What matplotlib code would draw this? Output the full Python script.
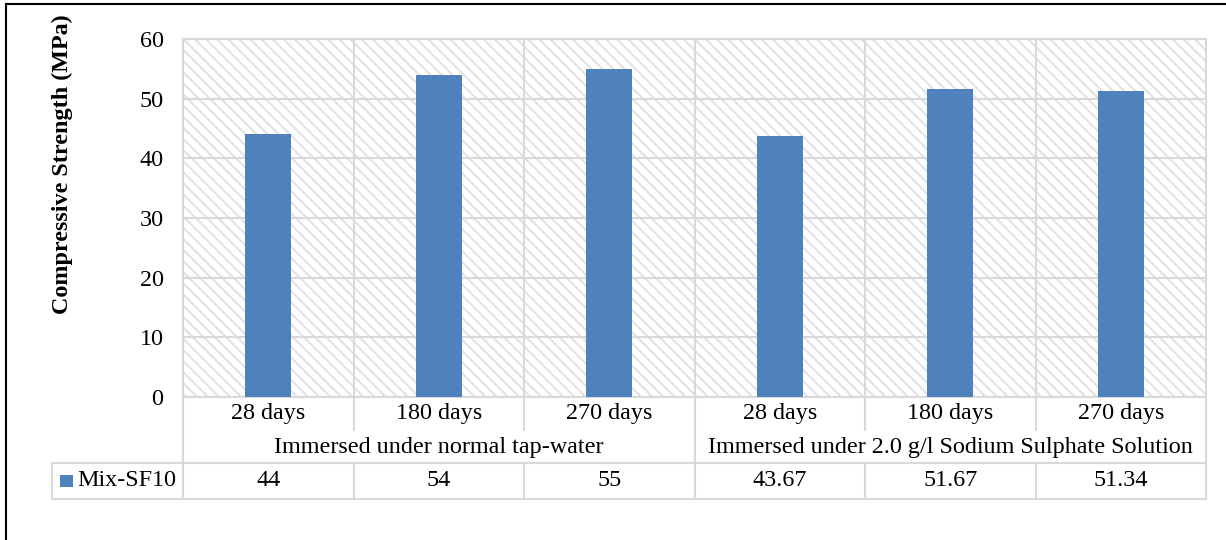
import matplotlib
matplotlib.use("Agg")
import matplotlib.pyplot as plt
import matplotlib.transforms as mtransforms
from matplotlib.patches import Rectangle
from matplotlib.lines import Line2D

plt.rcParams['font.family'] = ['Liberation Serif', 'DejaVu Serif']
plt.rcParams['hatch.color'] = '#E2E2E2'
plt.rcParams['hatch.linewidth'] = 1.5

# Compressive strength results
ages = ['28 days', '180 days', '270 days', '28 days', '180 days', '270 days']
groups = ['Immersed under normal tap-water',
          'Immersed under 2.0 g/l Sodium Sulphate Solution']
series_name = 'Mix-SF10'
strength = [44, 54, 55, 43.67, 51.67, 51.34]
value_labels = ['44', '54', '55', '43.67', '51.67', '51.34']

W, H = 1226, 540
GRID = '#D9D9D9'
BAR = '#4F81BD'
FS = 17.4

fig = plt.figure(figsize=(W / 100, H / 100), dpi=100)
ax = fig.add_axes([183 / W, 1 - 397 / H, (1206 - 183) / W, (397 - 39) / H])

# hatched plot background
ax.add_patch(Rectangle((0, 0), 1, 1, transform=ax.transAxes, facecolor='white',
                       edgecolor='#E2E2E2', hatch='\\\\\\', linewidth=0, zorder=0.1))

x = list(range(len(strength)))
ax.bar(x, strength, width=0.27, color=BAR, zorder=3)

ax.set_xlim(-0.5, len(strength) - 0.5)
ax.set_ylim(0, 60)
ax.set_yticks(range(0, 61, 10))
ax.set_xticks([])
ax.set_xticks([i + 0.5 for i in range(len(strength) - 1)], minor=True)
ax.tick_params(axis='y', length=0, pad=14, labelsize=FS)
ax.tick_params(axis='x', which='both', length=0, labelbottom=False)
ax.set_axisbelow(True)
ax.grid(axis='y', color=GRID, linewidth=1.5)
ax.grid(axis='x', which='minor', color=GRID, linewidth=1.5)
for s in ax.spines.values():
    s.set_color(GRID)
    s.set_linewidth(1.5)

# data table under the axis
tr = mtransforms.blended_transform_factory(ax.transData, ax.transAxes)
ph = 358.0
r1, r2, r3 = -33 / ph, -66 / ph, -102 / ph
x_left, x_right = -0.5, len(strength) - 0.5
x_leg = -0.5 - (183 - 52) / 170.5


def tline(xs, ys):
    ax.add_line(Line2D(xs, ys, transform=tr, color=GRID, lw=1.5, clip_on=False))


tline([x_leg, x_right], [r2, r2])
tline([x_leg, x_right], [r3, r3])
tline([x_leg, x_leg], [r2, r3])
for b in [x_left, 2.5, x_right]:
    tline([b, b], [0, r3])
for b in [0.5, 1.5, 3.5, 4.5]:
    tline([b, b], [0, r1])
    tline([b, b], [r2, r3])

for i, (a, v) in enumerate(zip(ages, value_labels)):
    ax.text(i, -16 / ph, a, transform=tr, ha='center', va='center', fontsize=FS)
    ax.text(i, -84 / ph, v, transform=tr, ha='center', va='center', fontsize=FS)
for g, label in enumerate(groups):
    ax.text(1 + 3 * g, -50 / ph, label, transform=tr, ha='center', va='center',
            fontsize=FS)

# legend key inside the table
key_x = -0.5 - (183 - 60) / 170.5
ax.add_patch(Rectangle((key_x, -90 / ph), 13 / 170.5, 12 / ph, transform=tr,
                       facecolor=BAR, edgecolor='none', clip_on=False))
ax.text(-0.5 - (183 - 77) / 170.5, -84 / ph, series_name, transform=tr,
        ha='left', va='center', fontsize=FS)

fig.text(62 / W, 1 - 164 / H, 'Compressive Strength (MPa)', rotation=90,
         ha='center', va='center', fontsize=FS, fontweight='bold')

# outer frame (left and top edges)
fig.add_artist(Line2D([6 / W, 6 / W], [0, 1 - 4 / H], color='black', lw=1.5))
fig.add_artist(Line2D([6 / W, 1], [1 - 4 / H, 1 - 4 / H], color='black', lw=1.5))

fig.savefig('out.png', dpi=100)
